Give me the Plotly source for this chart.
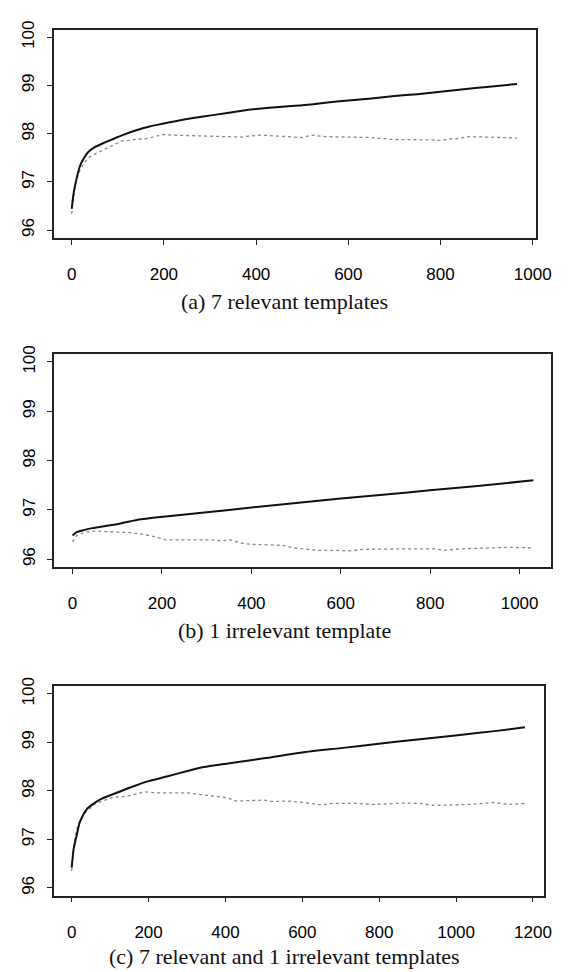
import plotly.graph_objects as go

# ---------------- data ----------------
# (a) 7 relevant templates
a_solid_x = [0, 4, 9, 18, 27, 35, 50, 70, 90, 113, 140, 169, 200, 225, 260, 310, 366, 400, 457, 500, 550, 600, 650, 700, 750, 800, 850, 900, 966]
a_solid_y = [96.44, 96.75, 97.0, 97.33, 97.5, 97.61, 97.72, 97.81, 97.89, 97.98, 98.07, 98.15, 98.21, 98.26, 98.32, 98.39, 98.47, 98.51, 98.56, 98.59, 98.64, 98.69, 98.73, 98.78, 98.82, 98.87, 98.92, 98.97, 99.03]
a_dot_x = [0, 4, 8, 14, 21, 30, 39, 55, 70, 90, 109, 125, 141, 155, 169, 183, 197, 220, 246, 270, 296, 330, 366, 390, 408, 430, 457, 480, 500, 520, 550, 600, 650, 700, 740, 780, 800, 820, 840, 860, 900, 940, 966]
a_dot_y = [96.34, 96.7, 96.96, 97.15, 97.3, 97.43, 97.52, 97.6, 97.67, 97.77, 97.85, 97.86, 97.89, 97.89, 97.91, 97.95, 97.98, 97.97, 97.96, 97.95, 97.95, 97.94, 97.93, 97.95, 97.97, 97.96, 97.94, 97.93, 97.92, 97.97, 97.94, 97.93, 97.92, 97.88, 97.88, 97.87, 97.86, 97.89, 97.9, 97.94, 97.93, 97.92, 97.91]

# (b) 1 irrelevant template
b_solid_x = [0, 9, 25, 44, 70, 99, 130, 146, 202, 300, 400, 500, 600, 700, 799, 900, 1031]
b_solid_y = [96.48, 96.55, 96.59, 96.63, 96.67, 96.71, 96.77, 96.8, 96.86, 96.95, 97.05, 97.14, 97.23, 97.31, 97.4, 97.48, 97.6]
b_dot_x = [0, 9, 28, 52, 99, 130, 154, 186, 209, 260, 312, 335, 350, 375, 400, 440, 470, 493, 520, 548, 590, 619, 651, 700, 750, 785, 810, 832, 867, 900, 942, 980, 1031]
b_dot_y = [96.35, 96.48, 96.55, 96.57, 96.55, 96.54, 96.51, 96.45, 96.39, 96.39, 96.39, 96.37, 96.4, 96.33, 96.3, 96.29, 96.28, 96.23, 96.21, 96.18, 96.18, 96.17, 96.2, 96.21, 96.21, 96.21, 96.21, 96.18, 96.21, 96.22, 96.23, 96.24, 96.23]

# (c) 7 relevant and 1 irrelevant templates
c_solid_x = [0, 5, 11.6, 21, 39, 71, 117, 163, 200, 250, 301, 337, 402, 500, 599, 700, 799, 900, 998, 1100, 1179]
c_solid_y = [96.42, 96.8, 97.04, 97.35, 97.62, 97.81, 97.96, 98.1, 98.2, 98.3, 98.41, 98.48, 98.56, 98.67, 98.79, 98.88, 98.97, 99.06, 99.14, 99.23, 99.31]
c_dot_x = [0, 6, 16, 35, 62, 108, 145, 191, 218, 273, 300, 330, 365, 402, 429, 470, 502, 521, 562, 603, 649, 677, 738, 787, 824, 870, 906, 943, 988, 1034, 1098, 1134, 1179]
c_dot_y = [96.35, 96.9, 97.31, 97.55, 97.74, 97.87, 97.89, 97.98, 97.96, 97.95, 97.96, 97.93, 97.89, 97.86, 97.79, 97.8, 97.81, 97.78, 97.79, 97.76, 97.71, 97.74, 97.74, 97.72, 97.74, 97.75, 97.74, 97.7, 97.71, 97.72, 97.76, 97.72, 97.74]

x_ticks_ab = [0, 200, 400, 600, 800, 1000]
x_ticks_c = [0, 200, 400, 600, 800, 1000, 1200]
y_ticks = [96, 97, 98, 99, 100]

captions = ["(a) 7 relevant templates", "(b) 1 irrelevant template", "(c) 7 relevant and 1 irrelevant templates"]

# ---------------- figure ----------------
W, H = 568, 972
fig = go.Figure()

panels = [
    dict(sx=a_solid_x, sy=a_solid_y, dx=a_dot_x, dy=a_dot_y, xr=[-38.7, 1007.4], ticks=x_ticks_ab,
         box=(55.3, 550.7, 20.7, 231.0), cap_y=295),
    dict(sx=b_solid_x, sy=b_solid_y, dx=b_dot_x, dy=b_dot_y, xr=[-41.1, 1071.0], ticks=x_ticks_ab,
         box=(55.7, 566.3, 348.3, 563.3), cap_y=627),
    dict(sx=c_solid_x, sy=c_solid_y, dx=c_dot_x, dy=c_dot_y, xr=[-47.2, 1228.5], ticks=x_ticks_c,
         box=(55.0, 558.7, 683.3, 895.0), cap_y=956),
]

tickfont = dict(family="Liberation Sans, Arial, sans-serif", size=17, color="#000")
for i, p in enumerate(panels):
    n = "" if i == 0 else str(i + 1)
    xa, ya = "x" + n, "y" + n
    fig.add_trace(go.Scatter(x=p["dx"], y=p["dy"], mode="lines", xaxis=xa, yaxis=ya,
                             line=dict(color="#888", width=1.3, dash="dot"), showlegend=False))
    fig.add_trace(go.Scatter(x=p["sx"], y=p["sy"], mode="lines", xaxis=xa, yaxis=ya,
                             line=dict(color="#111", width=2, shape="spline", smoothing=0.6), showlegend=False))
    l, r, t, b = p["box"]
    fig.layout["xaxis" + n] = dict(
        domain=[l / W, r / W], range=p["xr"], anchor=ya, tickvals=p["ticks"],
        ticks="outside", ticklen=5, tickwidth=1.2, tickcolor="#222",
        showline=True, mirror=True, linecolor="#222", linewidth=1.5,
        showgrid=False, zeroline=False, tickfont=tickfont, ticklabelstandoff=15)
    fig.layout["yaxis" + n] = dict(
        domain=[1 - b / H, 1 - t / H], range=[95.84, 100.16], anchor=xa, tickvals=y_ticks,
        ticks="outside", ticklen=5, tickwidth=1.2, tickcolor="#222",
        showline=True, mirror=True, linecolor="#222", linewidth=1.5,
        showgrid=False, zeroline=False, tickfont=tickfont, tickangle=-90, ticklabelstandoff=6)
    fig.add_annotation(text=captions[i], xref="paper", yref="paper", x=292 / W, y=1 - p["cap_y"] / H,
                       xanchor="center", yanchor="middle", showarrow=False,
                       font=dict(family="Liberation Serif, Times New Roman, serif", size=22, color="#111"))

fig.update_layout(width=W, height=H, margin=dict(l=0, r=0, t=0, b=0),
                  paper_bgcolor="white", plot_bgcolor="white")
fig.write_html("out.html")
